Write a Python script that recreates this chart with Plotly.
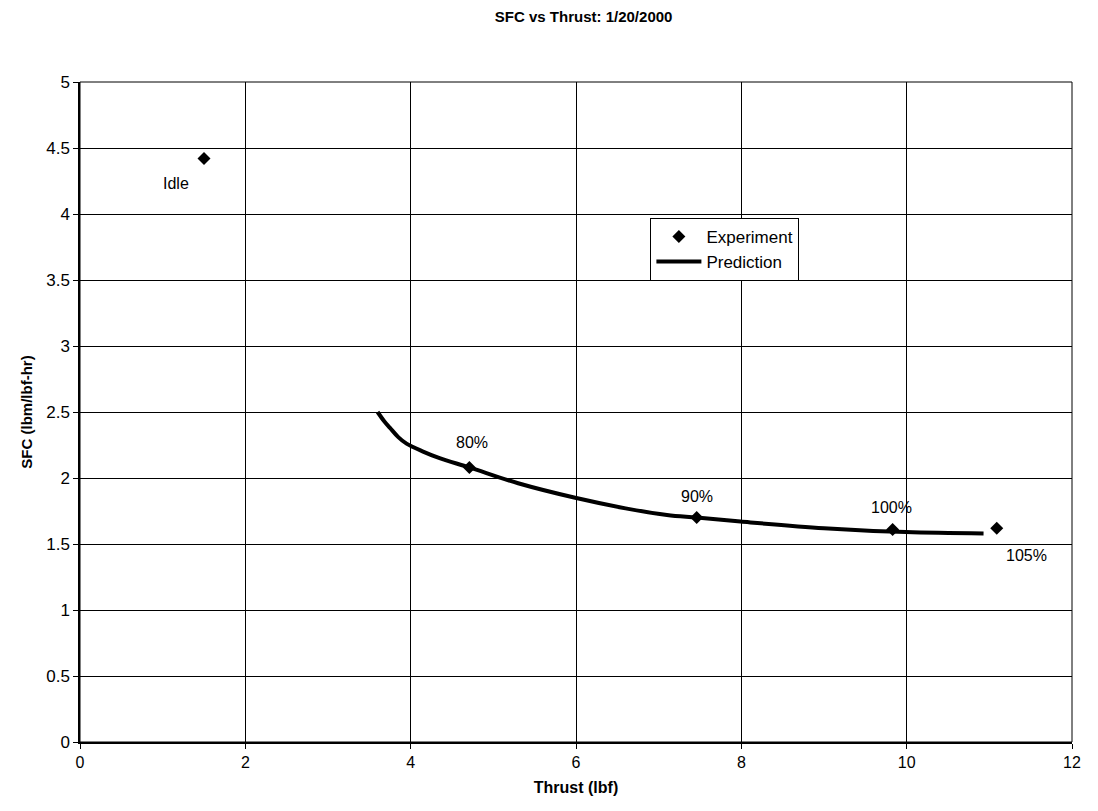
import plotly.graph_objects as go

exp_x = [1.50, 4.71, 7.46, 9.83, 11.09]
exp_y = [4.42, 2.08, 1.70, 1.61, 1.62]
exp_labels = ["Idle", "80%", "90%", "100%", "105%"]
label_x = [1.16, 4.74, 7.46, 9.82, 11.45]
label_y = [4.23, 2.27, 1.86, 1.78, 1.41]

pred_x = [3.60, 3.68, 3.75, 3.85, 3.95, 4.15, 4.35, 4.71, 5.3, 5.99, 6.6, 7.10, 7.46, 7.99, 9.0, 9.99, 10.93]
pred_y = [2.50, 2.43, 2.38, 2.31, 2.26, 2.20, 2.15, 2.08, 1.96, 1.85, 1.77, 1.72, 1.70, 1.67, 1.62, 1.59, 1.58]

font = "Liberation Sans, Arial, sans-serif"

fig = go.Figure()
fig.add_trace(go.Scatter(x=exp_x, y=exp_y, mode="markers", name="Experiment",
                         marker=dict(symbol="diamond", size=10, color="black")))
fig.add_trace(go.Scatter(x=pred_x, y=pred_y, mode="lines", name="Prediction",
                         line=dict(color="black", width=4, shape="spline")))

for lx, ly, t in zip(label_x, label_y, exp_labels):
    fig.add_annotation(x=lx, y=ly, text=t, showarrow=False,
                       font=dict(family=font, size=16, color="black"))

fig.update_layout(
    width=1082, height=795,
    paper_bgcolor="white", plot_bgcolor="white",
    margin=dict(l=72, r=9, t=74, b=60),
    title=dict(text="<b>SFC vs Thrust: 1/20/2000</b>", x=0.532, xanchor="center",
               y=0.996, yanchor="top", pad=dict(t=0, b=0),
               font=dict(family=font, size=15, color="black")),
    font=dict(family=font, size=16, color="black"),
    showlegend=True,
    legend=dict(x=0.575, y=0.794, xanchor="left", yanchor="top",
                bgcolor="white", bordercolor="black", borderwidth=1,
                font=dict(family=font, size=17, color="black"),
                tracegroupgap=0, itemwidth=45),
    xaxis=dict(range=[0, 12], dtick=2, showgrid=True, gridcolor="black", gridwidth=1,
               showline=True, linecolor="black", linewidth=1.5, mirror=False,
               ticks="outside", ticklen=5, tickcolor="black", zeroline=False,
               tickfont=dict(family=font, size=16), ticklabeloverflow="allow",
               title=dict(text="<b>Thrust (lbf)</b>", font=dict(family=font, size=16), standoff=12)),
    yaxis=dict(range=[0, 5], dtick=0.5, showgrid=True, gridcolor="black", gridwidth=1,
               showline=True, linecolor="black", linewidth=1.5,
               ticks="outside", ticklen=5, tickcolor="black", zeroline=False,
               tickfont=dict(family=font, size=17),
               title=dict(text="<b>SFC (lbm/lbf-hr)</b>", font=dict(family=font, size=15), standoff=10)),
)
fig.add_shape(type="rect", xref="paper", yref="paper", x0=0, y0=0, x1=1, y1=1,
              line=dict(color="black", width=1))

fig.write_html("out.html", config={"displayModeBar": False})
